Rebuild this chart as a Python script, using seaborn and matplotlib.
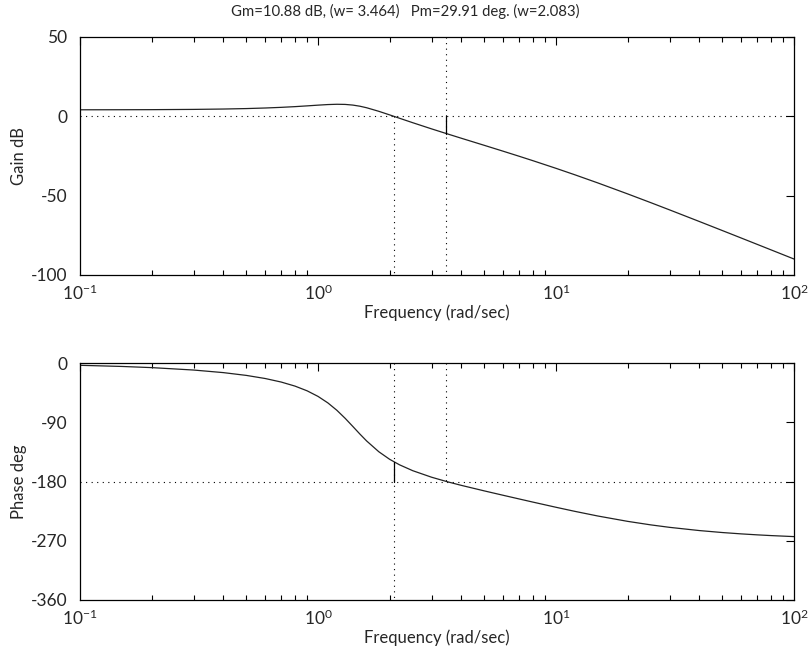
import numpy as np
import pandas as pd
import seaborn as sns
import matplotlib.pyplot as plt
from matplotlib.ticker import LogLocator, NullFormatter

# frequency samples (rad/sec) and values
freq = [0.1, 0.15, 0.2, 0.3, 0.4, 0.5, 0.6, 0.7, 0.8, 0.9, 1.0, 1.1, 1.2, 1.3,
        1.4, 1.5, 1.6, 1.8, 2.0, 2.2, 2.5, 3.0, 3.5, 4.0, 5.0, 6.0, 7.0, 8.0,
        10, 12, 15, 20, 25, 30, 40, 50, 60, 70, 80, 100]
gain_db = [4.12, 4.16, 4.21, 4.37, 4.60, 4.89, 5.25, 5.66, 6.11, 6.59, 7.05,
           7.42, 7.60, 7.51, 7.09, 6.37, 5.41, 3.17, 0.90, -1.21, -4.02, -7.91,
           -11.09, -13.81, -18.30, -22.00, -25.17, -27.97, -32.78, -36.85,
           -42.00, -48.90, -54.40, -58.97, -66.28, -72.00, -76.70, -80.69,
           -84.15, -89.94]
phase_deg = [-3.45, -5.20, -6.97, -10.64, -14.56, -18.81, -23.53, -28.88,
             -35.04, -42.24, -50.71, -60.59, -71.82, -84.00, -96.33, -107.99,
             -118.38, -134.76, -146.31, -154.64, -163.57, -173.50, -180.44,
             -185.86, -194.30, -200.96, -206.52, -211.31, -219.17, -225.36,
             -232.46, -240.56, -245.90, -249.65, -254.53, -257.54, -259.58,
             -261.05, -262.16, -263.72]

gm_db = 10.88
w_gm = 3.464
pm_deg = 29.91
w_pm = 2.083

gain_ticks = [-100, -50, 0, 50]
phase_ticks = [-360, -270, -180, -90, 0]

df = pd.DataFrame({'freq': freq, 'gain': gain_db, 'phase': phase_deg})

sns.set_theme(style='white')
plt.rcParams['font.family'] = ['Lato', 'DejaVu Sans']
plt.rcParams['axes.edgecolor'] = 'black'
plt.rcParams['axes.linewidth'] = 0.9
plt.rcParams['axes.unicode_minus'] = False

fig = plt.figure(figsize=(8.1, 6.56), dpi=100)
ax1 = fig.add_axes([0.0988, 0.5808, 0.8815, 0.3628])
ax2 = fig.add_axes([0.0988, 0.0854, 0.8815, 0.3612])

dot = dict(color='black', ls=(0, (1, 4)), lw=0.8)

for ax in (ax1, ax2):
    ax.set_xscale('log')
    ax.set_xlim(0.1, 100)

# gain plot
sns.lineplot(data=df, x='freq', y='gain', ax=ax1, color='#222222', lw=0.9)
ax1.set_ylim(-100, 50)
ax1.set_yticks(gain_ticks)
ax1.axhline(0, **dot)
ax1.plot([w_gm, w_gm], [50, -100], **dot)
ax1.plot([w_pm, w_pm], [0, -100], **dot)
ax1.plot([w_gm, w_gm], [0, -gm_db], color='black', lw=0.9)
ax1.set_ylabel('Gain dB', fontsize=12, labelpad=3)
fig.text(0.5, 0.994, 'Gm=10.88 dB, (w= 3.464)   Pm=29.91 deg. (w=2.083)',
         ha='center', va='top', fontsize=10.7)

# phase plot
sns.lineplot(data=df, x='freq', y='phase', ax=ax2, color='#222222', lw=0.9)
ax2.set_ylim(-360, 0)
ax2.set_yticks(phase_ticks)
ax2.axhline(-180, **dot)
ax2.plot([w_pm, w_pm], [0, -360], **dot)
ax2.plot([w_gm, w_gm], [0, -180], **dot)
ax2.plot([w_pm, w_pm], [-180, -180 + pm_deg], color='black', lw=0.9)
ax2.set_ylabel('Phase deg', fontsize=12, labelpad=3)

for ax in (ax1, ax2):
    ax.set_xlabel('Frequency (rad/sec)', fontsize=12, labelpad=1)
    ax.xaxis.set_major_locator(LogLocator(base=10, numticks=10))
    ax.xaxis.set_minor_locator(LogLocator(base=10, subs=np.arange(2, 10), numticks=10))
    ax.xaxis.set_minor_formatter(NullFormatter())
    ax.tick_params(which='both', direction='in', top=True, right=True,
                   labelsize=12.5, color='black')
    ax.tick_params(which='major', length=6, width=0.8)
    ax.tick_params(which='minor', length=3.5, width=0.8, bottom=True, top=True)
    ax.tick_params(axis='x', which='major', pad=6)
    ax.tick_params(axis='y', which='major', pad=9)
    ax.grid(False)

plt.savefig('out.png', dpi=100)
